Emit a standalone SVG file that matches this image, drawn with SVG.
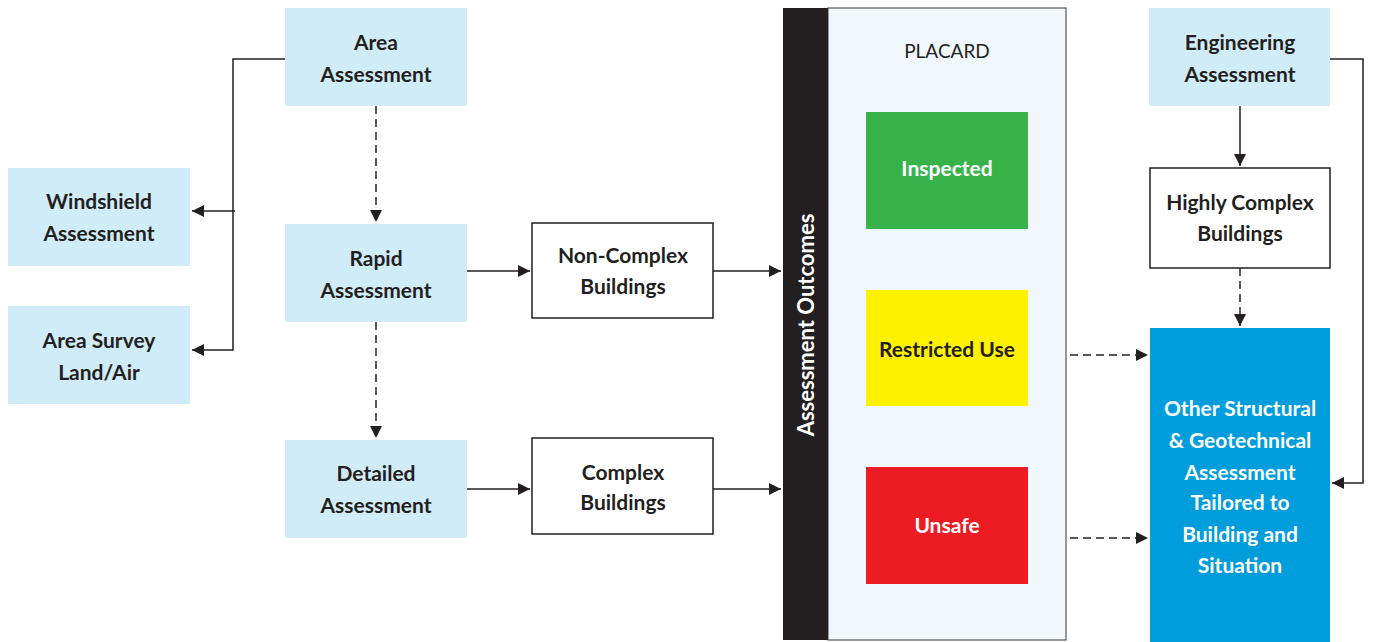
<svg xmlns="http://www.w3.org/2000/svg" width="1375" height="642" viewBox="0 0 1375 642">
<defs>
<style>
.lb{fill:#d1ecf9}
.wb{fill:#ffffff;stroke:#231f20;stroke-width:1.5}
.t{font-family:Lato,"Open Sans","Liberation Sans",sans-serif;font-weight:700;font-size:21px;fill:#231f20;text-anchor:middle}
.tw{fill:#ffffff}
.ln{fill:none;stroke:#231f20;stroke-width:1.5}
.ds{stroke-dasharray:8 5}
</style>
<marker id="ah" viewBox="0 0 10 10" refX="10" refY="5" markerWidth="12" markerHeight="12" markerUnits="userSpaceOnUse" orient="auto">
<path d="M0,0 L10,5 L0,10 z" fill="#231f20"/>
</marker>
</defs>
<rect width="1375" height="642" fill="#ffffff"/>
<g id="connectors">
<path class="ln" d="M285,59 H233 V350 H192" marker-end="url(#ah)"/>
<path class="ln" d="M235,211 H192" marker-end="url(#ah)"/>
<path class="ln ds" d="M376,106 V222" marker-end="url(#ah)"/>
<path class="ln ds" d="M376,322 V438" marker-end="url(#ah)"/>
<path class="ln" d="M467,271 H530" marker-end="url(#ah)"/>
<path class="ln" d="M713,271 H781" marker-end="url(#ah)"/>
<path class="ln" d="M467,489 H530" marker-end="url(#ah)"/>
<path class="ln" d="M713,489 H781" marker-end="url(#ah)"/>
<path class="ln ds" d="M1070,355 H1148" marker-end="url(#ah)"/>
<path class="ln ds" d="M1070,538 H1148" marker-end="url(#ah)"/>
<path class="ln" d="M1240,106 V166" marker-end="url(#ah)"/>
<path class="ln ds" d="M1240,268 V326" marker-end="url(#ah)"/>
<path class="ln" d="M1330,59 H1363 V483 H1332" marker-end="url(#ah)"/>
</g>
<g id="area-assessment">
<rect class="lb" x="285" y="8" width="182" height="98"/>
<text class="t" x="376" y="50">Area</text>
<text class="t" x="376" y="82">Assessment</text>
</g>
<g id="windshield">
<rect class="lb" x="8" y="168" width="182" height="98"/>
<text class="t" x="99" y="209">Windshield</text>
<text class="t" x="99" y="241">Assessment</text>
</g>
<g id="area-survey">
<rect class="lb" x="8" y="306" width="182" height="98"/>
<text class="t" x="99" y="348">Area Survey</text>
<text class="t" x="99" y="380">Land/Air</text>
</g>
<g id="rapid">
<rect class="lb" x="285" y="224" width="182" height="98"/>
<text class="t" x="376" y="266">Rapid</text>
<text class="t" x="376" y="298">Assessment</text>
</g>
<g id="detailed">
<rect class="lb" x="285" y="440" width="182" height="98"/>
<text class="t" x="376" y="481">Detailed</text>
<text class="t" x="376" y="513">Assessment</text>
</g>
<g id="non-complex">
<rect class="wb" x="532" y="223" width="181" height="95"/>
<text class="t" x="623" y="263">Non-Complex</text>
<text class="t" x="623" y="294">Buildings</text>
</g>
<g id="complex">
<rect class="wb" x="532" y="438" width="181" height="96"/>
<text class="t" x="623" y="480">Complex</text>
<text class="t" x="623" y="510">Buildings</text>
</g>
<g id="outcomes">
<rect x="828" y="8" width="238" height="632" fill="#f0f8fd" stroke="#555555" stroke-width="1.2"/>
<rect x="783" y="8" width="45" height="632" fill="#231f20"/>
<text class="t tw" x="0" y="0" transform="translate(814,325) rotate(-90)" style="font-size:22px">Assessment Outcomes</text>
<text x="947" y="58" text-anchor="middle" font-family="Lato,'Open Sans','Liberation Sans',sans-serif" font-size="19" fill="#231f20">PLACARD</text>
</g>
<g id="inspected">
<rect x="866" y="112" width="162" height="117" fill="#37b34a"/>
<text class="t tw" x="947" y="176">Inspected</text>
</g>
<g id="restricted">
<rect x="866" y="290" width="162" height="116" fill="#fff100"/>
<text class="t" x="947" y="357">Restricted Use</text>
</g>
<g id="unsafe">
<rect x="866" y="467" width="162" height="117" fill="#ed1c24"/>
<text class="t tw" x="947" y="533">Unsafe</text>
</g>
<g id="engineering">
<rect class="lb" x="1149" y="8" width="181" height="98"/>
<text class="t" x="1240" y="50">Engineering</text>
<text class="t" x="1240" y="82">Assessment</text>
</g>
<g id="highly-complex">
<rect class="wb" x="1150" y="168" width="180" height="100"/>
<text class="t" x="1240" y="210">Highly Complex</text>
<text class="t" x="1240" y="241">Buildings</text>
</g>
<g id="other">
<rect x="1150" y="328" width="180" height="314" fill="#009ddc"/>
<text class="t tw" x="1240" y="416">Other Structural</text>
<text class="t tw" x="1240" y="448">&amp; Geotechnical</text>
<text class="t tw" x="1240" y="480">Assessment</text>
<text class="t tw" x="1240" y="510">Tailored to</text>
<text class="t tw" x="1240" y="542">Building and</text>
<text class="t tw" x="1240" y="573">Situation</text>
</g>
</svg>
